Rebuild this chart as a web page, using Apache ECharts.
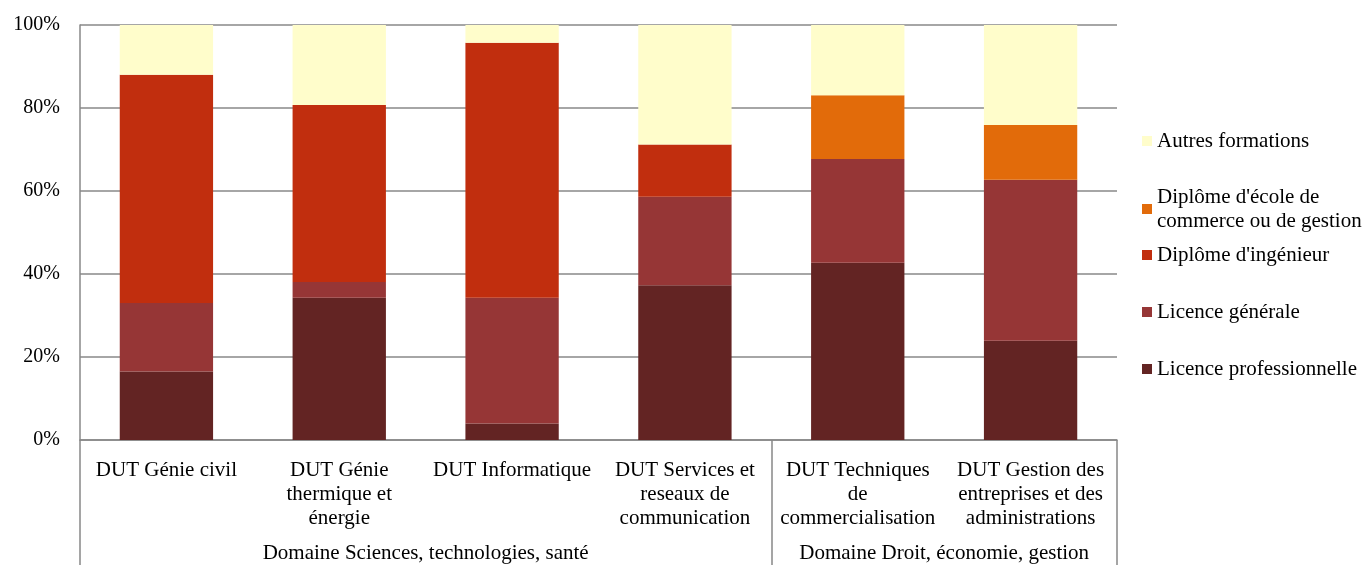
<!DOCTYPE html>
<html>
<head>
<meta charset="utf-8">
<script src="https://cdn.jsdelivr.net/npm/echarts@6/dist/echarts.min.js"></script>
<style>
html,body{margin:0;padding:0;background:#fff;}
#c{width:1367px;height:565px;}
</style>
</head>
<body>
<div id="c"></div>
<script>
const categories = [
  "DUT Génie civil",
  "DUT Génie\nthermique et\nénergie",
  "DUT Informatique",
  "DUT Services et\nreseaux de\ncommunication",
  "DUT Techniques\nde\ncommercialisation",
  "DUT Gestion des\nentreprises et des\nadministrations"
];
const groups = ["Domaine Sciences, technologies, santé", "Domaine Droit, économie, gestion"];
const groupCenters = [2, 5];
const groupBounds = [0, 4, 6];

const licencePro = [16.5, 34.3, 4.0, 37.3, 42.7, 23.9];
const licenceGen = [16.5, 3.8, 30.3, 21.3, 25.0, 38.8];
const ingenieur  = [55.0, 42.6, 61.4, 12.6, 0, 0];
const commerce   = [0, 0, 0, 0, 15.4, 13.2];
const autres     = [12.0, 19.3, 4.3, 28.8, 16.9, 24.1];

const yTicks = [0, 20, 40, 60, 80, 100];

const seriesNames = ["Licence professionnelle", "Licence générale", "Diplôme d'ingénieur",
  "Diplôme d'école de commerce ou de gestion", "Autres formations"];
const legendLabels = {
  "Diplôme d'école de commerce ou de gestion": "Diplôme d'école de\ncommerce ou de gestion"
};
const colors = ["#632423", "#963636", "#C12E0E", "#E26B0A", "#FFFDCB"];
const values = [licencePro, licenceGen, ingenieur, commerce, autres];

const FONT = "Liberation Serif";
const chart = echarts.init(document.getElementById('c'), null, {renderer: 'canvas'});

const legendTops = [352, 295, 238, 180, 124];
const legends = seriesNames.map((n, i) => ({
  data: [n],
  left: 1137,
  top: legendTops[i],
  orient: 'vertical',
  icon: 'rect',
  itemWidth: 10,
  itemHeight: 10,
  selectedMode: false,
  formatter: name => legendLabels[name] || name,
  textStyle: {fontFamily: FONT, fontSize: 21, color: '#000', lineHeight: 24}
}));

chart.setOption({
  animation: false,
  textStyle: {fontFamily: FONT},
  grid: {left: 80, right: 250, top: 25, bottom: 125, outerBoundsMode: 'none', containLabel: false},
  legend: legends,
  xAxis: [
    {
      type: 'category',
      data: categories,
      axisLine: {show: true, lineStyle: {color: '#888', width: 1.5}},
      axisTick: {show: false},
      axisLabel: {fontFamily: FONT, fontSize: 21, color: '#000', lineHeight: 24, margin: 18, interval: 0}
    },
    {
      type: 'value',
      position: 'bottom',
      min: 0, max: 6, interval: 1,
      axisLine: {show: false},
      splitLine: {show: false},
      axisTick: {show: true, customValues: groupBounds, length: 125, lineStyle: {color: '#888', width: 1.5}},
      axisLabel: {
        show: true, customValues: groupCenters, margin: 101, lineHeight: 24,
        fontFamily: FONT, fontSize: 21, color: '#000',
        formatter: v => groups[groupCenters.indexOf(v)] || ''
      }
    }
  ],
  yAxis: {
    type: 'value',
    min: 0, max: 100, interval: 20,
    axisLine: {show: true, lineStyle: {color: '#888', width: 1.5}},
    axisTick: {show: false},
    splitLine: {show: true, lineStyle: {color: '#888', width: 1.5}},
    axisLabel: {formatter: '{value}%', fontFamily: FONT, fontSize: 20, color: '#000', margin: 20, padding: [4, 0, 0, 0]}
  },
  series: seriesNames.map((n, i) => ({
    name: n,
    type: 'bar',
    stack: 'total',
    xAxisIndex: 0,
    barWidth: '54%',
    itemStyle: {color: colors[i]},
    data: values[i]
  }))
});
</script>
</body>
</html>
